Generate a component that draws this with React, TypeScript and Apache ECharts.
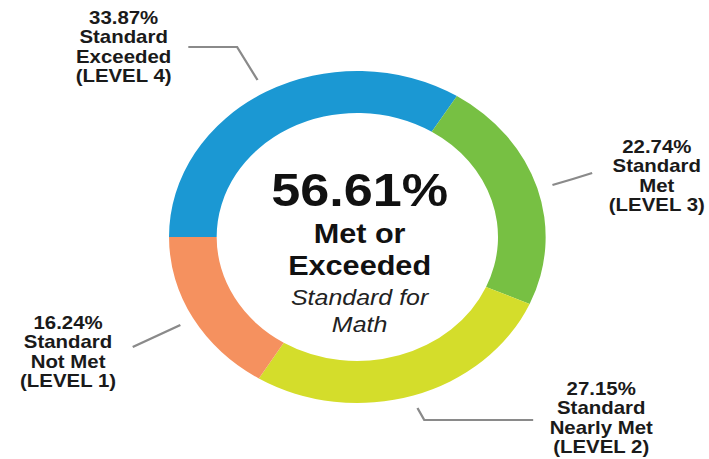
import React, { useEffect, useRef } from "react";
import * as echarts from "echarts";

// ---- data ----
const levelNames = [
  "Standard\nExceeded\n(LEVEL 4)",
  "Standard\nMet\n(LEVEL 3)",
  "Standard\nNearly Met\n(LEVEL 2)",
  "Standard\nNot Met\n(LEVEL 1)",
];
const levelValues = [33.87, 22.74, 27.15, 16.24];
const levelColors = ["#1b98d3", "#77c043", "#d4dd2b", "#f5915f"];
const centerLines = ["56.61%", "Met or", "Exceeded", "Standard for", "Math"];

// ---- layout (unstretched chart coordinates) ----
const STRETCH = 709 / 625;
const labelPos = [
  { x: 109, y: 47, line: [[227, 80], [209, 47], [166, 47]] },
  { x: 579, y: 176, line: [[487, 185], [505, 179], [522, 173]] },
  { x: 530, y: 418, line: [[368, 408], [374, 420], [470, 420]] },
  { x: 60, y: 352, line: [[159, 325], [138, 336], [117, 347]] },
];

export default function App() {
  const ref = useRef<HTMLDivElement>(null);
  useEffect(() => {
    if (!ref.current) return;
    const chart = echarts.init(ref.current, null, { renderer: "svg" });
    const font = "'Liberation Sans', Arial, Helvetica, sans-serif";
    chart.setOption({
      animation: false,
      backgroundColor: "#ffffff",
      textStyle: { fontFamily: font },
      graphic: [
        { type: "text", x: 317, y: 190, style: { text: centerLines[0], font: `bold 46px ${font}`, fill: "#111", textAlign: "center", textVerticalAlign: "middle" } },
        { type: "text", x: 317, y: 234, style: { text: centerLines[1], font: `bold 27px ${font}`, fill: "#111", textAlign: "center", textVerticalAlign: "middle" } },
        { type: "text", x: 317, y: 266, style: { text: centerLines[2], font: `bold 27px ${font}`, fill: "#111", textAlign: "center", textVerticalAlign: "middle" } },
        { type: "text", x: 317, y: 298, style: { text: centerLines[3], font: `italic 22px ${font}`, fill: "#222", textAlign: "center", textVerticalAlign: "middle" } },
        { type: "text", x: 317, y: 325, style: { text: centerLines[4], font: `italic 22px ${font}`, fill: "#222", textAlign: "center", textVerticalAlign: "middle" } },
      ],
      series: [
        {
          type: "pie",
          center: [315, 237],
          radius: [124, 166],
          startAngle: 180,
          clockwise: true,
          avoidLabelOverlap: false,
          silent: true,
          emphasis: { disabled: true },
          itemStyle: { borderWidth: 0 },
          label: {
            show: true,
            position: "outside",
            formatter: (p: any) => `${Number(p.value).toFixed(2)}%\n${p.name}`,
            fontFamily: font,
            fontWeight: "bold",
            fontSize: 18,
            lineHeight: 19.5,
            color: "#1a1a1a",
            align: "center",
          },
          labelLine: { show: true, lineStyle: { color: "#8a8a8a", width: 2 } },
          labelLayout: (params: any) => {
            const lp = labelPos[params.dataIndex];
            return {
              x: lp.x,
              y: lp.y,
              align: "center",
              verticalAlign: "middle",
              labelLinePoints: lp.line,
            };
          },
          data: levelNames.map((n, i) => ({
            name: n,
            value: levelValues[i],
            itemStyle: { color: levelColors[i] },
          })),
        },
      ],
    });
    return () => chart.dispose();
  }, []);
  return (
    <div
      ref={ref}
      style={{
        position: "absolute",
        left: 0,
        top: 0,
        width: 625,
        height: 459,
        transform: `scaleX(${STRETCH})`,
        transformOrigin: "0 0",
      }}
    />
  );
}
